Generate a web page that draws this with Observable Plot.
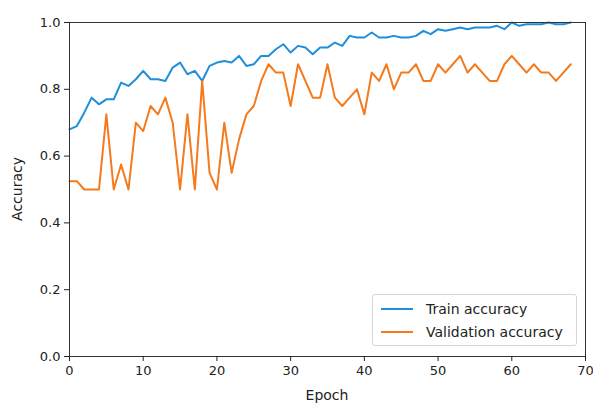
<!DOCTYPE html>
<html>
<head>
<meta charset="utf-8">
<script src="https://cdn.jsdelivr.net/npm/d3@7"></script>
<script src="https://cdn.jsdelivr.net/npm/@observablehq/plot@0.6"></script>
<style>
  html, body { margin: 0; padding: 0; background: #fff; }
  #wrap { position: relative; width: 593px; height: 404px; font-family: "DejaVu Sans", sans-serif; }
  #legend { position: absolute; left: 372px; top: 294px; width: 205px; height: 52px; border: 1px solid #d6d6d6; border-radius: 3px; background: rgba(255,255,255,0.85); font-size: 14px; color: #222; box-sizing: border-box; }
  .row { position: absolute; left: 8px; height: 20px; display: flex; align-items: center; }
  .sw { width: 32px; height: 0; border-top: 2px solid; margin-right: 13px; }
</style>
</head>
<body>
<div id="wrap"></div>
<script>
const epochs = d3.range(0, 69);
const trainAcc = [0.68,0.69,0.73,0.775,0.755,0.77,0.77,0.82,0.81,0.83,
  0.855,0.83,0.83,0.825,0.865,0.88,0.845,0.855,0.825,0.87,
  0.88,0.885,0.88,0.9,0.87,0.875,0.9,0.9,0.92,0.935,
  0.91,0.93,0.925,0.905,0.925,0.925,0.94,0.93,0.96,0.955,
  0.955,0.97,0.955,0.955,0.96,0.955,0.955,0.96,0.975,0.965,
  0.98,0.975,0.98,0.985,0.98,0.985,0.985,0.985,0.99,0.98,
  1.0,0.99,0.995,0.995,0.995,1.0,0.995,0.995,1.0];
const valAcc = [0.525,0.525,0.5,0.5,0.5,0.725,0.5,0.575,0.5,0.7,
  0.675,0.75,0.725,0.775,0.7,0.5,0.725,0.5,0.825,0.55,
  0.5,0.7,0.55,0.65,0.725,0.75,0.825,0.875,0.85,0.85,
  0.75,0.875,0.825,0.775,0.775,0.875,0.775,0.75,0.775,0.8,
  0.725,0.85,0.825,0.875,0.8,0.85,0.85,0.875,0.825,0.825,
  0.875,0.85,0.875,0.9,0.85,0.875,0.85,0.825,0.825,0.875,
  0.9,0.875,0.85,0.875,0.85,0.85,0.825,0.85,0.875];
const seriesNames = ["Train accuracy", "Validation accuracy"];
const seriesColors = ["#1f8fdc", "#f47a1c"];
const xTicks = [0,10,20,30,40,50,60,70];
const yTicks = [0,0.2,0.4,0.6,0.8,1.0];

const train = epochs.map((e,i) => ({epoch: e, acc: trainAcc[i]}));
const val = epochs.map((e,i) => ({epoch: e, acc: valAcc[i]}));

const chart = Plot.plot({
  width: 593,
  height: 404,
  marginLeft: 69,
  marginRight: 8,
  marginTop: 22,
  marginBottom: 48,
  style: {fontFamily: "DejaVu Sans, sans-serif", fontSize: "13px", color: "#222", background: "#fff"},
  x: {domain: [0, 70], ticks: xTicks, tickSize: 5, tickPadding: 3, label: null},
  y: {domain: [0, 1], ticks: yTicks, tickSize: 5, tickPadding: 3, tickFormat: d3.format(".1f"), label: null},
  marks: [
    Plot.line(train, {x: "epoch", y: "acc", stroke: seriesColors[0], strokeWidth: 2}),
    Plot.line(val, {x: "epoch", y: "acc", stroke: seriesColors[1], strokeWidth: 2}),
    Plot.frame({stroke: "#333", strokeWidth: 1}),
    Plot.axisX({ticks: xTicks, tickSize: 5, fontSize: 13, label: null}),
    Plot.axisY({ticks: yTicks, tickSize: 5, fontSize: 13, tickFormat: d3.format(".1f"), label: null})
  ]
});
const wrap = document.getElementById("wrap");
chart.style.position = "absolute";
chart.style.left = "0";
chart.style.top = "0";
wrap.appendChild(chart);

// axis titles
const svg = d3.select(chart);
svg.append("text").attr("x", 327).attr("y", 400).attr("text-anchor", "middle")
  .attr("font-size", 14).attr("fill", "#222").text("Epoch");
svg.append("text").attr("transform", "translate(22,189) rotate(-90)").attr("text-anchor", "middle")
  .attr("font-size", 14).attr("fill", "#222").text("Accuracy");

// legend
const lg = document.createElement("div");
lg.id = "legend";
seriesNames.forEach((n, i) => {
  const r = document.createElement("div");
  r.className = "row";
  r.style.top = (4 + i * 23) + "px";
  const sw = document.createElement("span");
  sw.className = "sw";
  sw.style.borderColor = seriesColors[i];
  r.appendChild(sw);
  const t = document.createElement("span");
  t.textContent = n;
  r.appendChild(t);
  lg.appendChild(r);
});
wrap.appendChild(lg);
</script>
</body>
</html>
